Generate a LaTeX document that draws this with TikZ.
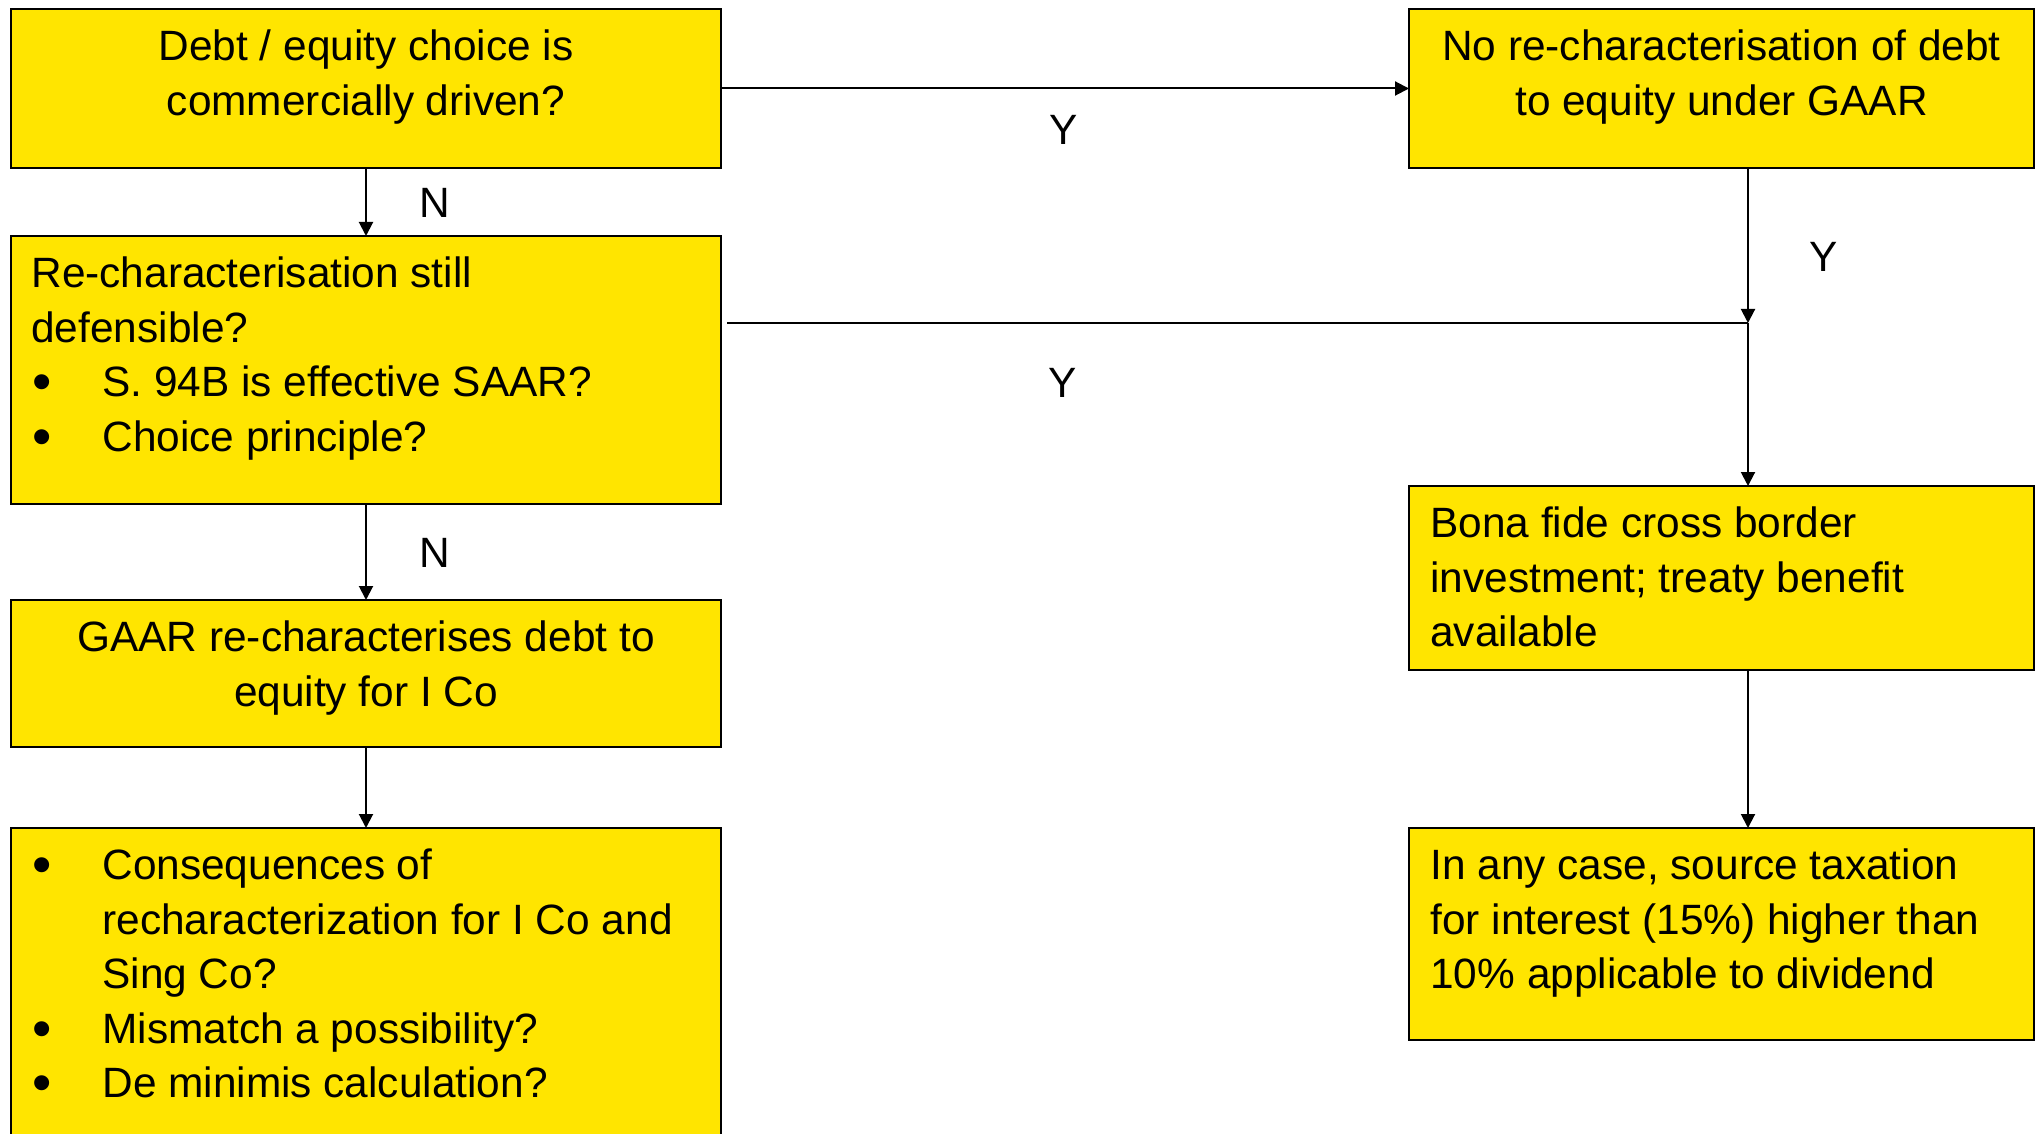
\documentclass[tikz,border=0pt]{standalone}
\usepackage{fontspec}
\usepackage{graphicx}
\setmainfont{Liberation Sans}
\usetikzlibrary{arrows.meta}
\definecolor{boxyellow}{HTML}{FFE500}
\newcommand\bul{\makebox[35.5pt][l]{\hspace{0.6pt}\raisebox{-2pt}{\scalebox{1.3}{•}}}}
\newcommand\ind{\makebox[35.5pt][l]{}}
\begin{document}
\begin{tikzpicture}[x=0.5pt,y=-0.5pt,
  every node/.style={font=\fontsize{21.2pt}{27.3pt}\selectfont},
  box/.style={draw=black,line width=0.9pt,fill=boxyellow,anchor=north west,
    inner sep=0pt,outer sep=0pt},
  ctext/.style={anchor=north,align=center,inner sep=0pt},
  ltext/.style={anchor=north west,align=left,inner sep=0pt},
  lbl/.style={anchor=base,inner sep=0pt},
  conn/.style={line width=1pt,draw=black},
  arr/.style={conn,-{Triangle[length=7pt,width=7pt]}}]
\useasboundingbox (0,0) rectangle (2036,1134);
\clip (0,0) rectangle (2036,1134);
\fill[white] (0,0) rectangle (2036,1134);

% left column
\node[box,minimum width=355pt,minimum height=79.5pt] (A) at (11,9) {};
\node[box,minimum width=355pt,minimum height=134pt] (B) at (11,236) {};
\node[box,minimum width=355pt,minimum height=73.5pt] (C) at (11,600) {};
\node[box,minimum width=355pt,minimum height=170pt] (D) at (11,828) {};
% right column
\node[box,minimum width=312.5pt,minimum height=79.5pt] (E) at (1409,9) {};
\node[box,minimum width=312.5pt,minimum height=92pt] (F) at (1409,486) {};
\node[box,minimum width=312.5pt,minimum height=106pt] (G) at (1409,828) {};

% box texts
\node[ctext] (tA) at ([yshift=-6.4pt]A.north)
  {\strut Debt / equity choice is\\commercially driven?};
\node[ltext] (tB) at ([xshift=10pt,yshift=-6.4pt]B.north west)
  {\strut Re-characterisation still\\defensible?\\\bul S. 94B is effective SAAR?\\\bul Choice principle?};
\node[ctext] (tC) at ([yshift=-6.4pt]C.north)
  {\strut GAAR re-characterises debt to\\equity for I Co};
\node[ltext] (tD) at ([xshift=10pt,yshift=-6.4pt]D.north west)
  {\strut\bul Consequences of\\\ind recharacterization for I Co and\\\ind Sing Co?\\\bul Mismatch a possibility?\\\bul De minimis calculation?};
\node[ctext] (tE) at ([yshift=-6.4pt]E.north)
  {\strut No re-characterisation of debt\\to equity under GAAR};
\node[ltext] (tF) at ([xshift=10.5pt,yshift=-6.4pt]F.north west)
  {\strut Bona fide cross border\\investment; treaty benefit\\available};
\node[ltext] (tG) at ([xshift=10.5pt,yshift=-6.4pt]G.north west)
  {\strut In any case, source taxation\\for interest (15\%) higher than\\10\% applicable to dividend};

% junction on the right-hand flow line
\coordinate (J) at (1748,323);

% connectors
\draw[arr] (A) -- (E);
\draw[arr] (A) -- (B);
\draw[arr] (J |- E.south) -- (J);
\draw[conn] ([xshift=3pt]B.east |- J) -- (J);
\draw[arr] (J) -- (J |- F.north);
\draw[arr] (B) -- (C);
\draw[arr] (C.south) -- (C.south |- D.north);
\draw[arr] (J |- F.south) -- (J |- G.north);

% branch labels
\node[lbl] (yAE) at (1064,145) {Y};
\node[lbl] (nAB) at (435,218) {N};
\node[lbl] (yEJ) at (1824,272) {Y};
\node[lbl] (yBJ) at (1063,398) {Y};
\node[lbl] (nBC) at (435,567) {N};
\end{tikzpicture}
\end{document}
